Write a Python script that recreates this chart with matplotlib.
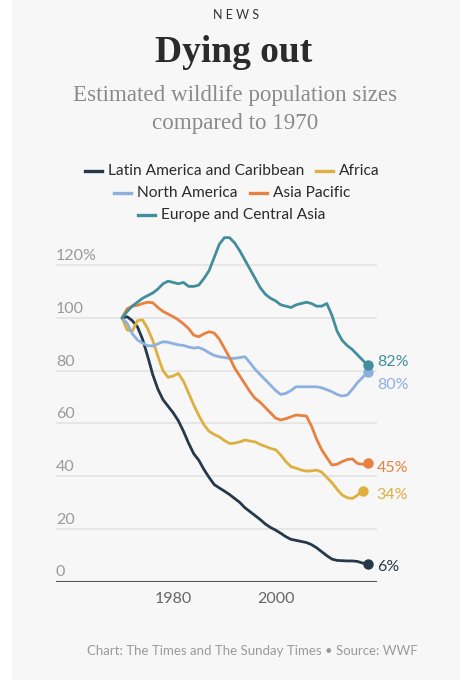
import matplotlib
matplotlib.use("Agg")
import matplotlib.pyplot as plt
from matplotlib.lines import Line2D
from matplotlib.patches import Rectangle
import numpy as np

# ---------------- data ----------------
years = list(range(1970, 2019))

latin_america = [100, 100.5, 99, 96.7, 92, 85.5, 78.5, 73, 69, 66.5,
                 64, 61, 57, 52.5, 48.5, 46, 42.5, 39.5, 36.8, 35.5,
                 34.3, 33, 31.5, 30, 28, 26.5, 25, 23.5, 21.8, 20.5,
                 19.5, 18.3, 17, 16, 15.6, 15.2, 14.8, 14, 12.8, 11.3,
                 9.8, 8.5, 8, 7.9, 7.8, 7.8, 7.6, 7, 6.5]

africa = [100, 95.5, 95, 99, 99.3, 96, 91.5, 85.5, 80, 77.5,
          78, 79, 76, 71.5, 67, 63, 59.5, 57, 55.8, 54.9,
          53.5, 52.4, 52.5, 53, 53.7, 53.3, 53, 52, 51.3, 50.5,
          50, 48, 45.5, 43.6, 43, 42.3, 41.9, 42, 42.3, 41.5,
          39.5, 37.5, 35, 32.8, 31.8, 31.5, 32.8, 34.5]  # ends 2017

north_america = [100, 98, 94, 91.7, 90.5, 89.5, 89.4, 90.2, 91, 90.8,
                 90.3, 89.8, 89.6, 89, 88.6, 88.8, 88, 86.8, 85.8, 85.3,
                 85, 84.7, 84.7, 85, 85.3, 83, 80.5, 78.5, 76.5, 74.5,
                 72.5, 71, 71.4, 72.5, 73.9, 73.9, 73.9, 73.9, 73.9, 73.5,
                 72.8, 72, 71, 70.4, 70.8, 73, 75.5, 77.5, 79.6]

asia_pacific = [100, 103.5, 104.5, 104.8, 105.5, 106, 105.8, 104, 102.5, 101.5,
                100.5, 99.3, 97.8, 96, 93.5, 92.9, 94, 94.8, 94.3, 92,
                88.5, 85, 81, 78, 75, 72, 69.5, 68, 66, 64,
                62, 61.3, 61.8, 62.5, 63.2, 63, 62.8, 59, 54, 50,
                47, 44.2, 44.5, 45.5, 46.3, 46.5, 44.8, 44.5, 44.9]

europe_central_asia = [100, 102.5, 104.5, 106, 107.5, 108.5, 109.5, 111, 113, 114,
                       113.5, 113, 113.5, 112, 112, 112.5, 115, 118, 123, 128,
                       130.5, 130.5, 128.5, 125.5, 122, 118.5, 115, 111.5, 109, 107.5,
                       106.5, 105, 104.5, 104, 105, 105.5, 106, 105.5, 104.5, 104.5,
                       105.5, 101, 95, 91.5, 89.5, 88, 86, 84, 82]

series_names = ["Latin America and Caribbean", "Africa", "North America",
                "Asia Pacific", "Europe and Central Asia"]
series_values = [latin_america, africa, north_america, asia_pacific, europe_central_asia]
end_labels = ["6%", "34%", "80%", "45%", "82%"]

y_ticks = [0, 20, 40, 60, 80, 100, 120]
y_tick_labels = ["0", "20", "40", "60", "80", "100", "120%"]
x_ticks = [1980, 2000]
x_tick_labels = ["1980", "2000"]

# ---------------- style ----------------
colors = ["#25394A", "#DDB03F", "#8DB0E0", "#E8813F", "#428E9C"]
# end-label offsets in pixels (dx, dy)
label_offsets = [(9, -3), (14, -4), (9, -13), (9, -5), (9, 3)]

W, H = 472, 680
fig = plt.figure(figsize=(W / 100, H / 100), dpi=100, facecolor="white")
fig.patches.append(Rectangle((12 / W, 0), 448 / W, 1, transform=fig.transFigure,
                             facecolor="#F7F7F7", edgecolor="none", zorder=-10))

sans = ["Lato", "DejaVu Sans"]
serif = ["Liberation Serif", "DejaVu Serif"]

def fx(px):
    return px / W

def fy(py):
    return 1 - py / H

# titles
fig.text(fx(236), fy(15), "N E W S", ha="center", va="center", fontsize=9,
         color="#333333", family=sans)
fig.text(fx(234), fy(52), "Dying out", ha="center", va="center", fontsize=27,
         fontweight="bold", color="#2b2b2b", family=serif)
fig.text(fx(235), fy(96), "Estimated wildlife population sizes", ha="center",
         va="center", fontsize=16.6, color="#8a8a8a", family=serif)
fig.text(fx(235), fy(124), "compared to 1970", ha="center", va="center",
         fontsize=16.6, color="#8a8a8a", family=serif)

# legend rows (built by measuring text)
rows = [[0, 1], [2, 3], [4]]
row_y = [171, 193, 215]
line_len, gap_lt, gap_items = 17, 6, 12
fig.canvas.draw()
renderer = fig.canvas.get_renderer()
for r, items in enumerate(rows):
    widths = []
    for i in items:
        t = fig.text(0, 0, series_names[i], fontsize=11.2, family=sans)
        widths.append(t.get_window_extent(renderer).width)
        t.remove()
    total = sum(line_len + gap_lt + w for w in widths) + gap_items * (len(items) - 1)
    x = 232 - total / 2
    for i, w in zip(items, widths):
        fig.add_artist(Line2D([fx(x), fx(x + line_len)], [fy(row_y[r])] * 2,
                              transform=fig.transFigure, color=colors[i], lw=2.4))
        fig.text(fx(x + line_len + gap_lt), fy(row_y[r]), series_names[i],
                 ha="left", va="center", fontsize=11.2, color="#2b2b2b", family=sans)
        x += line_len + gap_lt + w + gap_items

# axes
ax_left, ax_right = 56, 376.5
ax_bottom, ax_top = 581.5, 225.8
ax = fig.add_axes([fx(ax_left), fy(ax_bottom), (ax_right - ax_left) / W,
                   (ax_bottom - ax_top) / H])
ax.set_facecolor("none")
ax.set_xlim(1957.1, 2019.7)
ax.set_ylim(0, 135)
for s in ax.spines.values():
    s.set_visible(False)
ax.tick_params(left=False, bottom=False, labelleft=False, labelbottom=False)

for v in y_ticks[1:]:
    ax.axhline(v, color="#E2E2E2", lw=1.1, zorder=0)
ax.axhline(0, color="#555555", lw=1.5, zorder=1)

for v, lab in zip(y_ticks, y_tick_labels):
    ax.annotate(lab, xy=(0, v), xycoords=ax.get_yaxis_transform(),
                xytext=(0, 5), textcoords="offset pixels", ha="left",
                va="baseline", fontsize=11.5, color="#9a9a9a", family=sans)

for v, lab in zip(x_ticks, x_tick_labels):
    ax.annotate(lab, xy=(v, 0), xycoords=ax.get_xaxis_transform(),
                xytext=(0, -17.5), textcoords="offset pixels", ha="center",
                va="center", fontsize=11.5, color="#666666", family=sans)

for vals, c, lab, (dx, dy) in zip(series_values, colors, end_labels, label_offsets):
    yrs = years[:len(vals)]
    ax.plot(yrs, vals, color=c, lw=2, solid_capstyle="round", zorder=3)
    ax.plot(yrs[-1], vals[-1], "o", color=c, ms=6.5, zorder=4, clip_on=False)
    ax.annotate(lab, xy=(yrs[-1], vals[-1]), xytext=(dx, dy),
                textcoords="offset pixels", ha="left", va="center",
                fontsize=11.5, color=c, family=sans, annotation_clip=False)

# footer
fig.text(fx(252), fy(651), "Chart: The Times and The Sunday Times \u2022 Source: WWF",
         ha="center", va="center", fontsize=9.5, color="#9a9a9a", family=sans)

fig.savefig("out.png", dpi=100, facecolor=fig.get_facecolor())
